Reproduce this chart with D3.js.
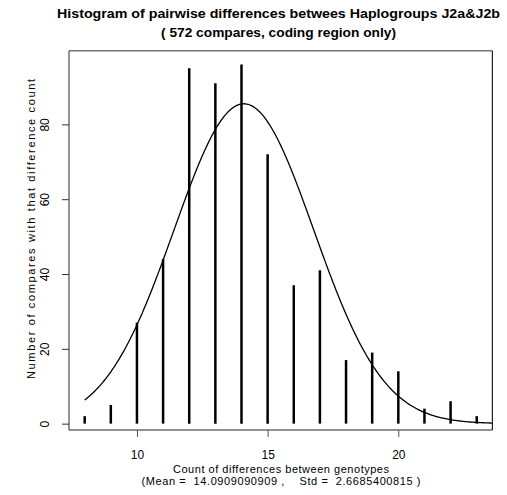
<!DOCTYPE html>
<html>
<head>
<meta charset="utf-8">
<script src="https://cdn.jsdelivr.net/npm/d3@7"></script>
<style>
  html, body { margin: 0; padding: 0; background: #fff; }
  svg { display: block; }
  text { font-family: "Liberation Sans", Arial, sans-serif; fill: #000; }
</style>
</head>
<body>
<svg id="chart" width="507" height="495"></svg>
<script>
// Number of pairwise differences between genotypes
const differenceCounts = [8, 9, 10, 11, 12, 13, 14, 15, 16, 17, 18, 19, 20, 21, 22, 23];
// Number of compares having each difference count
const compareCounts = [2, 5, 27, 44, 95, 91, 96, 72, 37, 41, 17, 19, 14, 4, 6, 2];

const xTicks = [10, 15, 20];
const yTicks = [0, 20, 40, 60, 80];

const totalCompares = 572;
const meanDiff = 14.0909090909;
const stdDiff = 2.6685400815;

const titleLines = [
  "Histogram of pairwise differences betwees Haplogroups J2a&J2b",
  "( 572 compares, coding region only)"
];
const titleWidths = [443, 235];
const xTitleLines = [
  "Count of differences between genotypes",
  "(Mean =  14.0909090909 ,    Std =  2.6685400815 )"
];
const xTitleWidths = [216, 279];
const yTitle = "Number of compares with that difference count";

const svg = d3.select("#chart");

const plot = { left: 69, right: 492.4, top: 50.7, bottom: 430 };

const x = d3.scaleLinear().domain([7.4, 23.6]).range([plot.left, plot.right]);
const y = d3.scaleLinear().domain([-1.7, 99.7]).range([plot.bottom, plot.top]);

// Clip region for the fitted curve
svg.append("defs").append("clipPath").attr("id", "plotClip")
  .append("rect")
  .attr("x", plot.left).attr("y", plot.top)
  .attr("width", plot.right - plot.left).attr("height", plot.bottom - plot.top);

// Vertical histogram spikes
svg.append("g").selectAll("line")
  .data(differenceCounts.map((d, i) => ({ d, n: compareCounts[i] })))
  .join("line")
  .attr("x1", p => x(p.d)).attr("x2", p => x(p.d))
  .attr("y1", y(0)).attr("y2", p => y(p.n))
  .attr("stroke", "#000")
  .attr("stroke-width", 2.5);

// Normal curve with the stated mean and std, scaled to the number of compares
const density = v => totalCompares / (stdDiff * Math.sqrt(2 * Math.PI)) *
  Math.exp(-((v - meanDiff) ** 2) / (2 * stdDiff * stdDiff));
const curveXs = d3.range(8, 24.01, 0.05);
svg.append("path")
  .datum(curveXs)
  .attr("clip-path", "url(#plotClip)")
  .attr("fill", "none")
  .attr("stroke", "#000")
  .attr("stroke-width", 1.3)
  .attr("d", d3.line().x(v => x(v)).y(v => y(density(v))));

// Frame
const frame = svg.append("g").attr("fill", "none");
frame.append("line").attr("x1", plot.left).attr("x2", plot.right)
  .attr("y1", plot.top).attr("y2", plot.top).attr("stroke", "#777").attr("stroke-width", 1.4);
frame.append("line").attr("x1", plot.left).attr("x2", plot.left)
  .attr("y1", plot.top).attr("y2", plot.bottom).attr("stroke", "#666").attr("stroke-width", 1.4);
frame.append("line").attr("x1", plot.right).attr("x2", plot.right)
  .attr("y1", plot.top).attr("y2", plot.bottom).attr("stroke", "#222").attr("stroke-width", 1.2);
frame.append("line").attr("x1", plot.left).attr("x2", plot.right)
  .attr("y1", plot.bottom).attr("y2", plot.bottom).attr("stroke", "#222").attr("stroke-width", 1.2);

// X axis
const xAxis = d3.axisBottom(x).tickValues(xTicks).tickSize(7).tickPadding(13)
  .tickFormat(d3.format("d"));
const gx = svg.append("g").attr("transform", `translate(0,${plot.bottom})`).call(xAxis);
gx.select(".domain").remove();
gx.selectAll(".tick line").attr("stroke", "#555");
gx.selectAll(".tick text").attr("font-size", 12)
  .attr("font-family", "Liberation Sans, Arial, sans-serif");

// Y axis
const yAxis = d3.axisLeft(y).tickValues(yTicks).tickSize(7).tickFormat(d3.format("d"));
const gy = svg.append("g").attr("transform", `translate(${plot.left},0)`).call(yAxis);
gy.select(".domain").remove();
gy.selectAll(".tick line").attr("stroke", "#333");
gy.selectAll(".tick text")
  .attr("font-size", 12)
  .attr("font-family", "Liberation Sans, Arial, sans-serif")
  .attr("x", null).attr("dy", null)
  .attr("text-anchor", "middle")
  .attr("transform", "translate(-24,0) rotate(-90)")
  .attr("dominant-baseline", "central");

// Titles
svg.append("g").selectAll("text").data(titleLines).join("text")
  .attr("x", 278.5).attr("y", (d, i) => 18 + i * 18.5)
  .attr("text-anchor", "middle")
  .attr("font-weight", "bold")
  .attr("font-size", 13.5)
  .attr("textLength", (d, i) => titleWidths[i])
  .attr("lengthAdjust", "spacingAndGlyphs")
  .text(d => d);

svg.append("g").selectAll("text").data(xTitleLines).join("text")
  .attr("x", 281).attr("y", (d, i) => 473 + i * 12)
  .attr("text-anchor", "middle")
  .attr("font-size", 11)
  .attr("textLength", (d, i) => xTitleWidths[i])
  .attr("lengthAdjust", "spacing")
  .style("white-space", "pre")
  .text(d => d);

svg.append("text")
  .attr("transform", "translate(31,229) rotate(-90)")
  .attr("text-anchor", "middle")
  .attr("dominant-baseline", "central")
  .attr("font-size", 11)
  .attr("textLength", 300)
  .attr("lengthAdjust", "spacing")
  .text(yTitle);
</script>
</body>
</html>
